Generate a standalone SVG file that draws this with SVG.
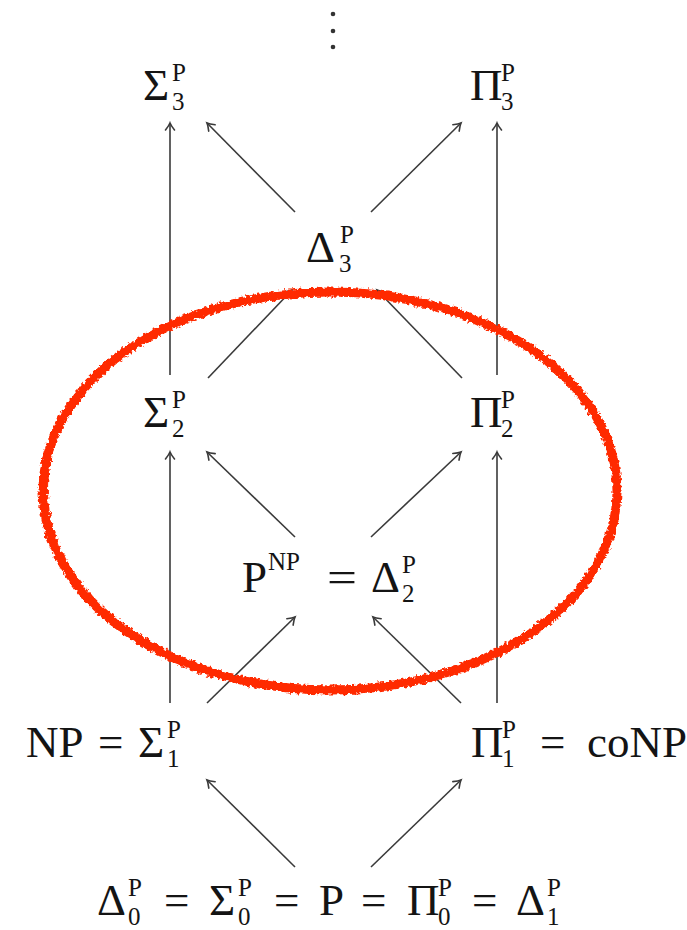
<svg xmlns="http://www.w3.org/2000/svg" width="687" height="930" viewBox="0 0 687 930">
<style>
  .t { font-family: "Liberation Serif", "DejaVu Serif", serif; font-size: 45px; fill: #141414; }
  .s { font-size: 25px; }
  .edge { stroke: #3a3a3a; stroke-width: 1.6; fill: none; marker-end: url(#arr); }
</style>
<defs>
  <marker id="arr" viewBox="-10 -6 12 12" refX="0" refY="0" markerWidth="12" markerHeight="12" markerUnits="userSpaceOnUse" orient="auto" overflow="visible">
    <path d="M-7,-4.5 Q-2.5,-1 0,0 Q-2.5,1 -7,4.5" stroke="#3a3a3a" stroke-width="1.6" fill="none" stroke-linecap="round"/>
  </marker>
  <filter id="rough" x="-5%" y="-5%" width="110%" height="110%">
    <feTurbulence type="fractalNoise" baseFrequency="0.3" numOctaves="2" seed="3" result="n"/>
    <feDisplacementMap in="SourceGraphic" in2="n" scale="6" xChannelSelector="R" yChannelSelector="G"/>
  </filter>
</defs>
<rect width="687" height="930" fill="#ffffff"/>

<g id="vdots" fill="#333">
  <circle cx="333" cy="14" r="2.3"/>
  <circle cx="333" cy="31" r="2.3"/>
  <circle cx="333" cy="47" r="2.3"/>
</g>

<g id="connectors">
  <line class="edge" x1="170" y1="375" x2="170" y2="123"/>
  <line class="edge" x1="497" y1="375" x2="497" y2="123"/>
  <line class="edge" x1="170" y1="703" x2="170" y2="452"/>
  <line class="edge" x1="497" y1="703" x2="497" y2="452"/>
  <line class="edge" x1="295" y1="212" x2="207" y2="123"/>
  <line class="edge" x1="371" y1="212" x2="461" y2="123"/>
  <line class="edge" x1="208" y1="378" x2="292" y2="290"/>
  <line class="edge" x1="462" y1="378" x2="377" y2="290"/>
  <line class="edge" x1="295" y1="537" x2="207" y2="452"/>
  <line class="edge" x1="371" y1="537" x2="461" y2="452"/>
  <line class="edge" x1="207" y1="703" x2="295" y2="617"/>
  <line class="edge" x1="461" y1="703" x2="373" y2="617"/>
  <line class="edge" x1="295" y1="867" x2="207" y2="780"/>
  <line class="edge" x1="371" y1="867" x2="461" y2="780"/>
</g>

<g id="sigma3">
  <text class="t"><tspan x="143" y="100">Σ</tspan><tspan class="s" x="172" y="81">P</tspan><tspan class="s" x="172" y="110">3</tspan></text>
</g>
<g id="pi3">
  <text class="t"><tspan x="470" y="100">Π</tspan><tspan class="s" x="501" y="81">P</tspan><tspan class="s" x="501" y="110">3</tspan></text>
</g>
<g id="delta3">
  <text class="t"><tspan x="306" y="262">Δ</tspan><tspan class="s" x="340" y="243">P</tspan><tspan class="s" x="339" y="272">3</tspan></text>
</g>
<g id="sigma2">
  <text class="t"><tspan x="143" y="427">Σ</tspan><tspan class="s" x="172" y="408">P</tspan><tspan class="s" x="172" y="437">2</tspan></text>
</g>
<g id="pi2">
  <text class="t"><tspan x="470" y="427">Π</tspan><tspan class="s" x="501" y="408">P</tspan><tspan class="s" x="501" y="437">2</tspan></text>
</g>
<g id="delta2">
  <text class="t"><tspan x="242" y="592">P</tspan><tspan class="s" x="268" y="570">NP</tspan><tspan x="327" y="592" textLength="30" lengthAdjust="spacingAndGlyphs">=</tspan><tspan x="371" y="592">Δ</tspan><tspan class="s" x="402" y="573">P</tspan><tspan class="s" x="402" y="602">2</tspan></text>
</g>
<g id="sigma1">
  <text class="t"><tspan x="26" y="757">NP</tspan><tspan x="98" y="757">=</tspan><tspan x="138" y="757">Σ</tspan><tspan class="s" x="167" y="738">P</tspan><tspan class="s" x="167" y="767">1</tspan></text>
</g>
<g id="pi1">
  <text class="t"><tspan x="471" y="757">Π</tspan><tspan class="s" x="502" y="738">P</tspan><tspan class="s" x="502" y="767">1</tspan><tspan x="540" y="757">=</tspan><tspan x="587" y="757">coNP</tspan></text>
</g>
<g id="bottom">
  <text class="t"><tspan x="97" y="915">Δ</tspan><tspan class="s" x="128" y="896">P</tspan><tspan class="s" x="128" y="925">0</tspan><tspan x="164" y="915">=</tspan><tspan x="209" y="915">Σ</tspan><tspan class="s" x="238" y="896">P</tspan><tspan class="s" x="238" y="925">0</tspan><tspan x="274" y="915">=</tspan><tspan x="319" y="915">P</tspan><tspan x="361" y="915">=</tspan><tspan x="407" y="915">Π</tspan><tspan class="s" x="438" y="896">P</tspan><tspan class="s" x="438" y="925">0</tspan><tspan x="472" y="915">=</tspan><tspan x="516" y="915">Δ</tspan><tspan class="s" x="547" y="896">P</tspan><tspan class="s" x="547" y="925">1</tspan></text>
</g>

<g id="highlight" filter="url(#rough)">
  <ellipse cx="330" cy="491" rx="287" ry="199" fill="none" stroke="#ff2a00" stroke-width="9"/>
  <ellipse cx="331" cy="490" rx="285" ry="198" fill="none" stroke="#ff2a00" stroke-width="4" opacity="0.85"/>
</g>
</svg>
